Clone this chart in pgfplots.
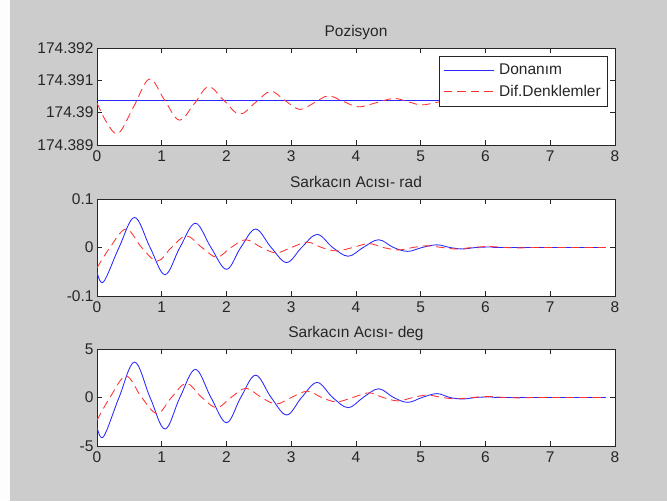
\documentclass[border=0pt]{standalone}
\usepackage{pgfplots}
\pgfplotsset{compat=1.18}
\usepackage{fontspec}
\setmainfont{Liberation Sans}
\definecolor{figbg}{RGB}{204,204,204}
\definecolor{axcol}{RGB}{38,38,38}
\definecolor{lblue}{RGB}{40,40,255}
\definecolor{lred}{RGB}{255,50,50}
\newcommand{\mfont}{\fontsize{15.5}{18}\selectfont}
\begin{document}
\begin{tikzpicture}
\fill[figbg] (0pt,0pt) rectangle (667pt,501pt);
\fill[white!96!figbg] (0pt,0pt) rectangle (10pt,501pt);
\pgfplotsset{
 every axis/.append style={
  scale only axis, width=518pt, height=97pt, anchor=south west,
  xmin=0, xmax=8, xtick={0,1,...,8},
  xticklabels={0,1,2,3,4,5,6,7,8},
  tick align=inside, major tick length=5pt,
  axis background/.style={fill=white},
  axis line style={axcol, line width=0.8pt},
  every tick/.style={axcol, line width=0.8pt},
  tick label style={font=\mfont, text=axcol},
  xticklabel style={yshift=-2pt},
  /pgf/number format/assume math mode=true,
  title style={at={(0.5,1)}, anchor=base, yshift=5pt, font=\mfont, text=axcol},
 },
 bl/.style={lblue, line width=0.85pt, smooth, tension=0.6},
 rd/.style={lred, line width=0.85pt, dash pattern=on 8.5pt off 5pt, smooth, tension=0.6},
}
% ---------- Pozisyon ----------
\begin{axis}[at={(97pt,356pt)}, title={Pozisyon},
  y filter/.expression={(y-174.39)*1000},
  ymin=-1, ymax=2,
  ytick={-1,0,1,2},
  yticklabels={174.389,174.39,174.391,174.392},
  legend style={at={(1,1)}, anchor=north east, xshift=-8pt, yshift=-8pt,
    draw=axcol, fill=white, font=\mfont, text=axcol, row sep=5pt,
    inner xsep=4pt, inner ysep=6pt},
  legend cell align=left,
  legend image code/.code={\draw[#1] (0pt,0pt) -- (50pt,0pt); \path (53pt,0pt);},
]
\addplot[bl] coordinates {(0,174.39036) (7.86,174.39036)};
\addlegendentry{Donanım}
\addplot[rd] coordinates {
(0,174.39030) (0.15,174.38970) (0.33,174.38936) (0.57,174.39020) (0.81,174.39104)
(1.04,174.39040) (1.27,174.38977) (1.50,174.39028) (1.72,174.39080) (1.96,174.39038)
(2.20,174.38996) (2.44,174.39030) (2.68,174.39065) (2.90,174.39038) (3.13,174.39011)
(3.35,174.39031) (3.57,174.39052) (3.80,174.39035) (4.04,174.39019) (4.30,174.39031)
(4.58,174.39044) (4.80,174.39034) (5.01,174.39024) (5.25,174.39032) (5.48,174.39040)
(5.70,174.39034) (5.92,174.39025) (6.15,174.39032) (6.40,174.39036) (6.65,174.39033)
(6.88,174.39030) (7.10,174.39033) (7.35,174.39035) (7.60,174.39033) (7.86,174.39032)};
\addlegendentry{Dif.Denklemler}
\end{axis}
% ---------- rad ----------
\begin{axis}[at={(97pt,205pt)}, title={Sarkacın Acısı- rad},
  ymin=-0.1, ymax=0.1, ytick={-0.1,0,0.1}, yticklabels={-0.1,0,0.1}]
\addplot[bl] coordinates {
(0,-0.050) (0.10,-0.071) (0.34,0) (0.58,0.062) (0.82,0) (1.05,-0.056) (1.28,0)
(1.52,0.050) (1.76,0) (2.00,-0.045) (2.22,0) (2.45,0.038) (2.69,0) (2.93,-0.031)
(3.16,0) (3.40,0.027) (3.64,0) (3.88,-0.018) (4.11,0) (4.35,0.016) (4.58,0)
(4.80,-0.008) (5.02,0) (5.25,0.0055) (5.45,0) (5.65,-0.003) (5.85,0) (6.08,0.001)
(6.30,0) (7.86,0)};
\addplot[rd] coordinates {
(0,-0.042) (0.20,0) (0.45,0.038) (0.69,0) (0.93,-0.028) (1.15,0) (1.38,0.024)
(1.62,0) (1.85,-0.020) (2.07,0) (2.30,0.016) (2.54,0) (2.77,-0.011) (3.00,0)
(3.25,0.011) (3.47,0) (3.70,-0.007) (3.95,0) (4.20,0.008) (4.42,0) (4.65,-0.005)
(4.88,0) (5.10,0.0035) (5.33,0) (5.55,-0.003) (5.80,0) (6.05,0.002) (6.30,0)
(6.55,-0.0008) (6.80,0) (7.86,0)};
\end{axis}
% ---------- deg ----------
\begin{axis}[at={(97pt,55pt)}, title={Sarkacın Acısı- deg},
  ymin=-5, ymax=5, ytick={-5,0,5}, yticklabels={-5,0,5}]
\addplot[bl] coordinates {
(0,-3.0) (0.10,-4.05) (0.34,0) (0.58,3.65) (0.82,0) (1.05,-3.25) (1.28,0)
(1.52,2.9) (1.76,0) (2.00,-2.6) (2.22,0) (2.45,2.3) (2.69,0) (2.93,-1.8)
(3.16,0) (3.40,1.55) (3.64,0) (3.88,-1.05) (4.11,0) (4.35,0.9) (4.58,0)
(4.80,-0.5) (5.02,0) (5.25,0.4) (5.45,0) (5.65,-0.15) (5.85,0) (6.08,0.06)
(6.30,0) (7.86,0)};
\addplot[rd] coordinates {
(0,-2.35) (0.20,0) (0.45,2.2) (0.69,0) (0.93,-1.65) (1.15,0) (1.38,1.45)
(1.62,0) (1.85,-1.05) (2.07,0) (2.30,0.95) (2.54,0) (2.77,-0.67) (3.00,0)
(3.25,0.65) (3.47,0) (3.70,-0.45) (3.95,0) (4.20,0.48) (4.42,0) (4.65,-0.35)
(4.88,0) (5.10,0.25) (5.33,0) (5.55,-0.14) (5.80,0) (6.05,0.1) (6.30,0)
(6.55,-0.04) (6.80,0) (7.86,0)};
\end{axis}
\end{tikzpicture}
\end{document}
